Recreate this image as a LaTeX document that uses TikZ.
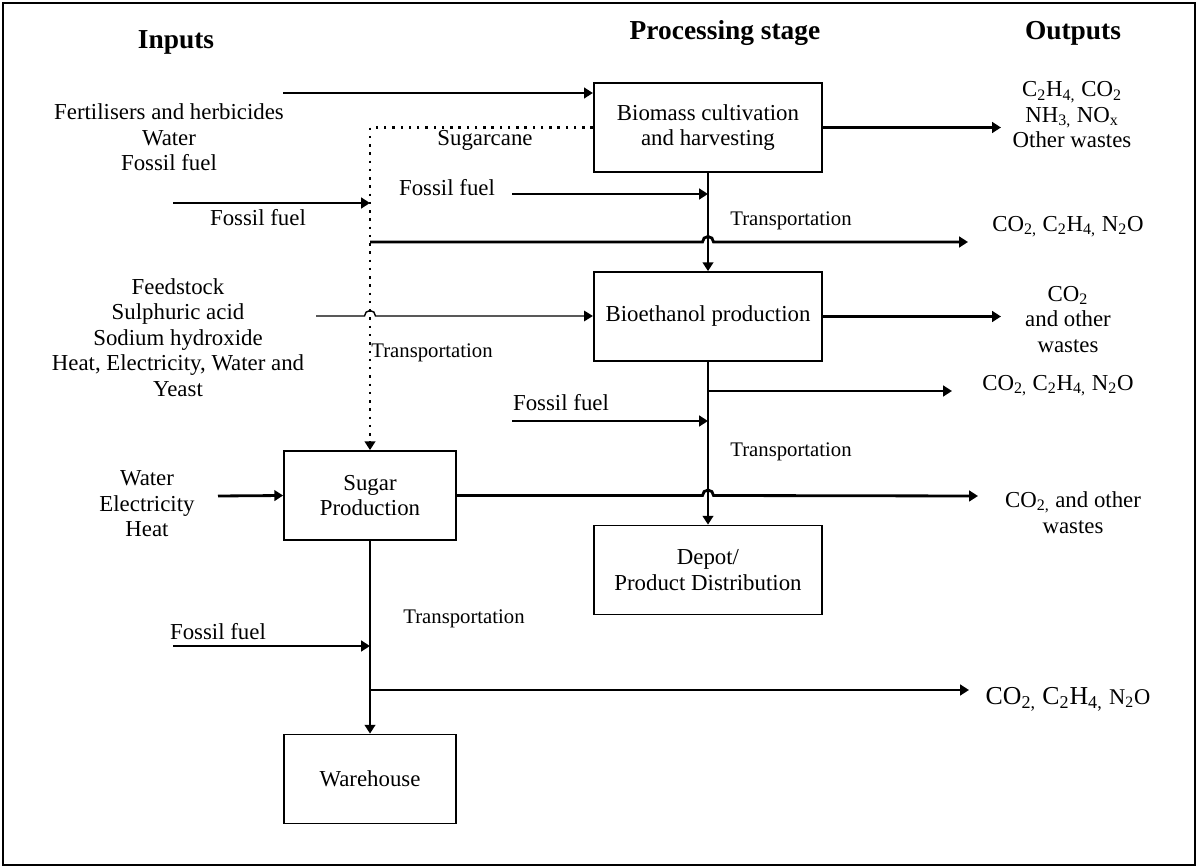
\documentclass[tikz,border=0pt]{standalone}
\usepackage{fontspec}
\setmainfont{Liberation Serif}
\usetikzlibrary{arrows.meta}
\begin{document}
\begin{tikzpicture}[x=0.02cm,y=-0.02cm,
  txt/.style={font=\fontsize{13}{14.5}\selectfont, align=center, inner sep=0pt},
  small/.style={font=\fontsize{11.8}{13}\selectfont, align=center, inner sep=0pt},
  head/.style={font=\fontsize{15.6}{18}\selectfont\bfseries, inner sep=0pt},
  box/.style={draw, line width=1pt, align=center, inner sep=0pt, font=\fontsize{13}{14.5}\selectfont},
  wide/.style={box, minimum width=4.57cm, minimum height=1.78cm},
  narrow/.style={box, minimum width=3.44cm, minimum height=1.78cm},
  tip/.style={-{Triangle[length=5pt,width=6pt]}},
  arr/.style={line width=1.6pt, tip},
  thinarr/.style={line width=0.8pt, tip},
  dotarr/.style={line width=1.4pt, dash pattern=on 1.4pt off 3.3pt, tip}
]
\useasboundingbox (0,0) rectangle (1198,868);
\draw[line width=1.1pt] (3,3) rectangle (1195,865);

% headings
\node[head] (hin) at (176,42) {Inputs};
\node[head] (hproc) at (725,33) {Processing stage};
\node[head] (hout) at (1073,33) {Outputs};

% boxes
\node[wide] (bio) at (708,127.5) {Biomass cultivation\\and harvesting};
\node[wide] (eth) at (708,316.5) {Bioethanol production};
\node[wide] (dep) at (708,570) {Depot/\\Product Distribution};
\node[narrow] (sug) at (370,495.5) {Sugar\\Production};
\node[narrow] (war) at (370,779) {Warehouse};

% input texts
\node[txt] (i1) at (169,137.5) {Fertilisers and herbicides\\Water\\Fossil fuel};
\node[txt] (i2) at (178,337.5) {Feedstock\\Sulphuric acid\\Sodium hydroxide\\Heat, Electricity, Water and\\Yeast};
\node[txt] (i3) at (147,504) {Water\\Electricity\\Heat};
\node[txt] (cane) at (485,140) {Sugarcane};
\node[txt] (ff1) at (258,218) {Fossil fuel};
\node[txt] (ff2) at (447,188) {Fossil fuel};
\node[txt] (ff3) at (561,403) {Fossil fuel};
\node[txt] (ff4) at (218,632) {Fossil fuel};
\node[small] (tr1) at (791,221) {Transportation};
\node[small] (tr2) at (432,353) {Transportation};
\node[small] (tr3) at (791,452) {Transportation};
\node[small] (tr4) at (464,619) {Transportation};

% output texts
\node[txt] (o1) at (1072,115) {C\textsubscript{2}H\textsubscript{4,} CO\textsubscript{2}\\NH\textsubscript{3,} NO\textsubscript{x}\\Other wastes};
\node[txt] (o2) at (1068,227) {CO\textsubscript{2,} C\textsubscript{2}H\textsubscript{4,} N\textsubscript{2}O};
\node[txt] (o3) at (1068,319.5) {CO\textsubscript{2}\\and other\\wastes};
\node[txt] (o4) at (1058,386) {CO\textsubscript{2,} C\textsubscript{2}H\textsubscript{4,} N\textsubscript{2}O};
\node[txt] (o5) at (1073,512.5) {CO\textsubscript{2,} and other\\wastes};
\node[txt, font=\fontsize{14.7}{16}\selectfont] (o6) at (1068,699) {CO\textsubscript{2,} C\textsubscript{2}H\textsubscript{4,} {\fontsize{12.8}{14}\selectfont N\textsubscript{2}O}};

% free ends
\coordinate (a1) at (283,93);
\coordinate (a2) at (173,203);
\coordinate (a3) at (512,194);
\coordinate (t1) at (370,242);
\coordinate (t1e) at (968,242);
\coordinate (a4) at (316,316);
\coordinate (e1) at (1001,127.5);
\coordinate (e2) at (1001,316.5);
\coordinate (b1) at (709,391);
\coordinate (b1e) at (952,391);
\coordinate (a5) at (512,421);
\coordinate (s1e) at (978,496);
\coordinate (a6) at (218,496);
\coordinate (a7) at (173,646);
\coordinate (b2) at (370,690);
\coordinate (b2e) at (969,690);

% connectors
\draw[arr] (a1) -- (a1 -| bio.west);
\draw[dotarr] (bio.west) -- (bio.west -| sug.north) -- (sug.north);
\draw[arr] (a2) -- (a2 -| sug.north);
\draw[arr] (a3) -- (a3 -| bio.south);
\draw[arr] (bio.south) -- (eth.north);
\draw[arr] (t1) -- ([xshift=-0.11cm]t1 -| bio.south) arc[start angle=180, end angle=0, radius=0.11cm] -- (t1e);
\draw[thinarr] (a4) -- ([xshift=-0.11cm]a4 -| sug.north) arc[start angle=180, end angle=0, radius=0.11cm] -- (a4 -| eth.west);
\draw[arr] (bio.east) -- (e1);
\draw[arr] (eth.east) -- (e2);
\draw[arr] (eth.south) -- (dep.north);
\draw[arr] (b1) -- (b1e);
\draw[arr] (a5) -- (a5 -| eth.south);
\draw[arr] (sug.east) -- ([xshift=-0.11cm]sug.east -| eth.south) arc[start angle=180, end angle=0, radius=0.11cm] -- (s1e);
\draw[arr] (a6) -- (sug.west);
\draw[arr] (sug.south) -- (war.north);
\draw[arr] (a7) -- (a7 -| sug.south);
\draw[arr] (b2) -- (b2e);
\end{tikzpicture}
\end{document}
